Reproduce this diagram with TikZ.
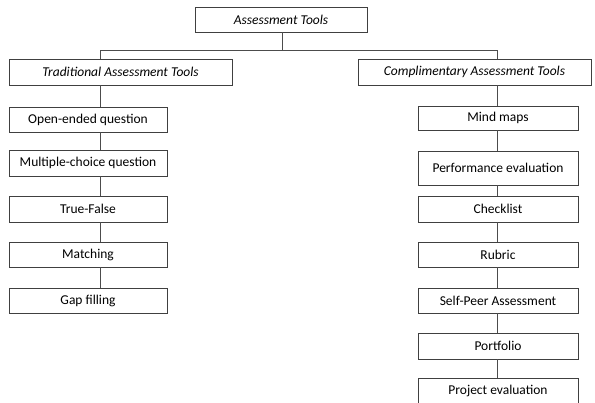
\documentclass[tikz,border=0pt]{standalone}
\usepackage{fontspec}
\setmainfont{Carlito}
\usetikzlibrary{positioning,calc}

\begin{document}
\begin{tikzpicture}[x=1pt,y=-1pt]
\tikzset{TOOL/.style={draw=black!75,line width=0.6pt,rectangle,inner sep=0pt,text centered,minimum height=25pt,font=\fontsize{13.5}{15}\selectfont}}
\tikzset{GROUP/.style={TOOL,font=\fontsize{13.5}{15}\selectfont\itshape,minimum height=26pt}}
\tikzset{LEFT/.style={TOOL,minimum width=158pt}}
\tikzset{RIGHT/.style={TOOL,minimum width=160pt}}
\tikzset{LINK/.style={draw=black!70,line width=0.6pt}}

\useasboundingbox (0,0) rectangle (595,403);

% root and the two groups
\node[GROUP,minimum width=172pt,minimum height=25pt] (root) at (281,19.5) {Assessment Tools};
\node[GROUP,minimum width=223pt] (traditional) at (120.5,72) {Traditional Assessment Tools};
\node[GROUP,minimum width=233pt] (complimentary) at (474.5,72) {Complimentary Assessment Tools};

\coordinate (left spine) at (100,50);
\coordinate (right spine) at (497,50);

% traditional tools
\node[LEFT] (open) at (88,119.5) {Open-ended question};
\node[LEFT,minimum height=26pt] (multiple) at (88,163) {Multiple-choice question};
\node[LEFT,minimum height=26pt] (truefalse) at (88,209) {True-False};
\node[LEFT] (matching) at (88,254.5) {Matching};
\node[LEFT] (gap) at (88,300.5) {Gap filling};

% complimentary tools
\node[RIGHT,minimum height=24pt] (mind) at (498,118) {Mind maps};
\node[RIGHT,minimum height=34pt] (performance) at (498,168) {Performance evaluation};
\node[RIGHT,minimum height=26pt] (checklist) at (498,209) {Checklist};
\node[RIGHT] (rubric) at (498,254.5) {Rubric};
\node[RIGHT] (selfpeer) at (498,300.5) {Self-Peer Assessment};
\node[RIGHT,minimum height=26pt] (portfolio) at (498,346) {Portfolio};
\node[RIGHT] (project) at (498,390.5) {Project evaluation};

\path[LINK] (root.south -| 282,0) -- (282,50);
\path[LINK] (traditional.north -| left spine) -- (left spine) -- (right spine) -- (complimentary.north -| right spine);

\foreach \a/\b in {traditional/open,open/multiple,multiple/truefalse,truefalse/matching,matching/gap}
  \path[LINK] (\a.south -| left spine) -- (\b.north -| left spine);
\foreach \a/\b in {complimentary/mind,mind/performance,performance/checklist,checklist/rubric,rubric/selfpeer,selfpeer/portfolio,portfolio/project}
  \path[LINK] (\a.south -| right spine) -- (\b.north -| right spine);

\end{tikzpicture}
\end{document}
